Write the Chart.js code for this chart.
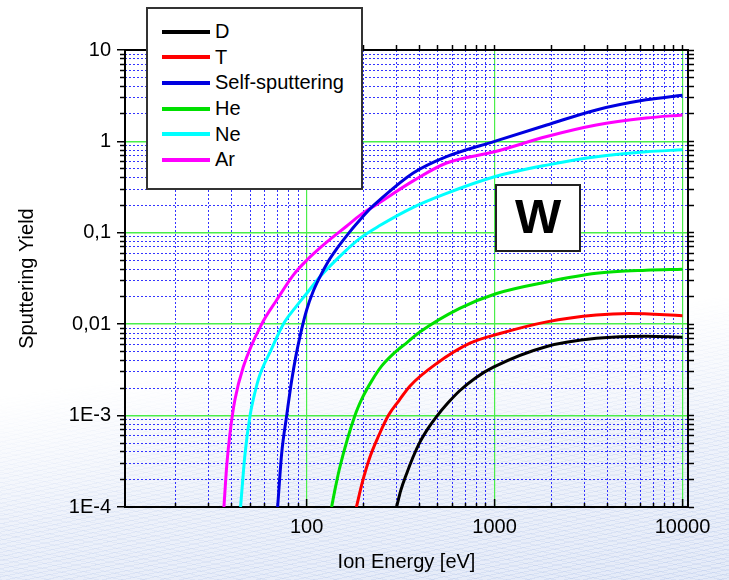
<!DOCTYPE html>
<html>
<head>
<meta charset="utf-8">
<script src="https://cdn.jsdelivr.net/npm/chart.js@4"></script>
<style>
  body { margin: 0; background: #fff; }
  #wrap { position: relative; width: 729px; height: 580px; overflow: hidden; background: #fff; }
  #waves {
    position: absolute; left: 0; top: 0; width: 729px; height: 580px;
    background:
      repeating-linear-gradient(168deg, rgba(150,175,225,0.22) 0 1px, transparent 1px 4px),
      repeating-linear-gradient(12deg, rgba(150,175,225,0.16) 0 1px, transparent 1px 5px),
      linear-gradient(180deg, rgba(225,232,247,0.3), rgba(225,232,247,0.9));
    -webkit-mask-image: linear-gradient(172deg, transparent 58%, rgba(0,0,0,0.7) 78%, #000 100%);
    mask-image: linear-gradient(172deg, transparent 58%, rgba(0,0,0,0.7) 78%, #000 100%);
  }
  canvas { position: absolute; left: 0; top: 0; }
  #legend {
    position: absolute; left: 146px; top: 7px; width: 213px; height: 169px;
    border: 2px solid #333; background: #fff; padding-top: 10px; box-sizing: content-box;
    font-family: "Liberation Sans", Arial, sans-serif; font-size: 20px; color: #000;
  }
  .row { height: 25.6px; display: flex; align-items: center; }
  .sw { width: 48px; height: 4px; margin-left: 14px; margin-right: 5px; }
  #wbox {
    position: absolute; left: 495px; top: 184px; width: 82px; height: 60px;
    border: 2px solid #222; background: #fff;
    font-family: "Liberation Sans", Arial, sans-serif; font-weight: bold; font-size: 49px;
    display: flex; align-items: center; justify-content: center; padding-bottom: 4px; box-sizing: content-box;
  }
</style>
</head>
<body>
<div id="wrap">
  <div id="waves"></div>
  <canvas id="chart" width="729" height="580"></canvas>
  <div id="legend"></div>
  <div id="wbox">W</div>
</div>
<script>
const seriesNames = ['D', 'T', 'Self-sputtering', 'He', 'Ne', 'Ar'];
const seriesColors = ['#000000', '#ff0000', '#0000e0', '#00e000', '#00ffff', '#ff00ff'];

// ion energy [eV] / sputtering yield
const energyD = [301, 317, 340, 368, 400, 442, 490, 564, 652, 795, 986, 1895, 3480, 6400, 10000];
const yieldD = [1e-4, 1.52e-4, 2.3e-4, 3.5e-4, 5.1e-4, 7.2e-4, 9.7e-4, 1.37e-3, 1.87e-3, 2.6e-3, 3.39e-3, 0.0057, 0.0070, 0.0074, 0.0072];

const energyT = [184, 198, 217, 242.5, 272, 310, 354, 490, 740, 1068, 1895, 3480, 5230, 10000];
const yieldT = [1e-4, 1.87e-4, 3.5e-4, 6.1e-4, 1e-3, 1.46e-3, 0.0021, 0.0037, 0.0062, 0.0079, 0.0106, 0.0126, 0.0131, 0.0124];

const energySelf = [70.1, 73.6, 78.3, 83.2, 87.7, 93.3, 100, 108, 117.7, 129.8, 144.4, 170, 192, 217, 245, 369, 555, 1000, 1895, 3480, 6400, 10000];
const yieldSelf = [1e-4, 3.8e-4, 1e-3, 0.0024, 0.0045, 0.0082, 0.0143, 0.0225, 0.033, 0.048, 0.0665, 0.103, 0.138, 0.182, 0.229, 0.45, 0.68, 1.0, 1.51, 2.21, 2.85, 3.2];

const energyHe = [135.8, 142.3, 150.3, 180.7, 199, 222, 251, 291, 342, 400, 652, 1025, 1895, 3480, 6400, 10000];
const yieldHe = [1e-4, 1.64e-4, 2.74e-4, 1e-3, 0.0016, 0.0024, 0.0035, 0.0048, 0.0063, 0.0082, 0.0149, 0.0217, 0.029, 0.036, 0.039, 0.040];

const energyNe = [44.5, 47, 50, 53.1, 56.4, 64.6, 75.1, 86.6, 100, 117.7, 156.5, 192, 245, 369, 555, 1000, 1895, 3480, 6400, 10000];
const yieldNe = [1e-4, 3.8e-4, 1e-3, 0.0018, 0.0028, 0.0052, 0.01, 0.015, 0.0217, 0.033, 0.06, 0.087, 0.12, 0.19, 0.27, 0.41, 0.55, 0.68, 0.77, 0.81];

const energyAr = [36.3, 37.6, 39.1, 41.5, 46, 57.6, 69.3, 84.9, 100, 127.8, 163, 192, 245, 369, 555, 1000, 1895, 3480, 6400, 10000];
const yieldAr = [1e-4, 2.9e-4, 6.4e-4, 1.48e-3, 0.0034, 0.01, 0.0184, 0.0345, 0.050, 0.079, 0.118, 0.155, 0.215, 0.37, 0.58, 0.77, 1.13, 1.51, 1.80, 1.95];

const energies = [energyD, energyT, energySelf, energyHe, energyNe, energyAr];
const yields = [yieldD, yieldT, yieldSelf, yieldHe, yieldNe, yieldAr];

const xMajorTicks = [100, 1000, 10000];
const xMajorLabels = ['100', '1000', '10000'];
const yMajorTicks = [1e-4, 1e-3, 0.01, 0.1, 1, 10];
const yMajorLabels = ['1E-4', '1E-3', '0,01', '0,1', '1', '10'];
const xDecades = [10, 100, 1000];
const yDecades = [1e-4, 1e-3, 0.01, 0.1, 1];
const steps = [2, 3, 4, 5, 6, 7, 8, 9];

const xTicks = [];
xDecades.forEach(d => steps.forEach(s => xTicks.push(s * d)));
xTicks.push(...xMajorTicks);
xTicks.sort((a, b) => a - b);
const yTicks = [];
yDecades.forEach(d => steps.forEach(s => yTicks.push(s * d)));
yTicks.push(...yMajorTicks);
yTicks.sort((a, b) => a - b);

const GREEN = '#4aee4a';
const BLUE = 'rgba(30,30,255,0.9)';
const FONT = { family: '"Liberation Sans", Arial, sans-serif', size: 20 };

const sameVal = (a, b) => Math.abs(Math.log10(a) - Math.log10(b)) < 1e-6;
const isMajor = (list, v) => list.some(m => sameVal(m, v));
const labelFor = (list, labels, v) => {
  const i = list.findIndex(m => sameVal(m, v));
  return i >= 0 ? labels[i] : '';
};
const setTicks = list => scale => { scale.ticks = list.map(v => ({ value: v })); };

const legend = document.getElementById('legend');
seriesNames.forEach((n, i) => {
  const row = document.createElement('div');
  row.className = 'row';
  row.innerHTML = `<span class="sw" style="background:${seriesColors[i]}"></span><span>${n}</span>`;
  legend.appendChild(row);
});

const X_MIN = 10.8, X_MAX = 10700, Y_MIN = 1e-4, Y_MAX = 10;

new Chart(document.getElementById('chart'), {
  type: 'scatter',
  data: {
    datasets: seriesNames.map((n, i) => ({
      label: n,
      data: energies[i].map((e, k) => ({ x: e, y: yields[i][k] })),
      showLine: true,
      borderColor: seriesColors[i],
      borderWidth: 3,
      pointRadius: 0,
      cubicInterpolationMode: 'monotone',
      fill: false
    }))
  },
  options: {
    responsive: false,
    animation: false,
    layout: { padding: { top: 45, right: 35, left: 0, bottom: 0 } },
    plugins: { legend: { display: false }, tooltip: { enabled: false } },
    scales: {
      x: {
        type: 'logarithmic', position: 'bottom', min: X_MIN, max: X_MAX, weight: 1,
        afterBuildTicks: setTicks(xTicks),
        afterFit: s => { s.height = 73; },
        ticks: { autoSkip: false, maxRotation: 0, padding: 16, color: '#000', font: FONT,
          callback: v => labelFor(xMajorTicks, xMajorLabels, v) },
        grid: {
          color: c => isMajor(xMajorTicks, c.tick.value) ? GREEN : 'rgba(0,0,0,0)',
          lineWidth: 1.2, tickLength: -8, tickWidth: 1.5,
          tickColor: c => isMajor(xMajorTicks, c.tick.value) ? '#000' : 'rgba(0,0,0,0)'
        },
        border: { color: '#000', width: 2 },
        title: { display: true, text: 'Ion Energy [eV]', color: '#000', font: FONT, padding: { bottom: 6 } }
      },
      xMinor: {
        type: 'logarithmic', position: 'bottom', min: X_MIN, max: X_MAX, weight: 0,
        afterBuildTicks: setTicks(xTicks),
        afterFit: s => { s.height = 0; },
        ticks: { display: false },
        grid: {
          color: c => isMajor(xMajorTicks, c.tick.value) ? 'rgba(0,0,0,0)' : BLUE,
          lineWidth: 1, tickLength: -4, tickWidth: 1.5,
          tickColor: c => isMajor(xMajorTicks, c.tick.value) ? 'rgba(0,0,0,0)' : '#000'
        },
        border: { display: false, dash: [2, 2] }
      },
      xTop: {
        type: 'logarithmic', position: 'top', min: X_MIN, max: X_MAX,
        afterBuildTicks: setTicks(xTicks),
        afterFit: s => { s.height = 5; },
        ticks: { display: false },
        grid: { drawOnChartArea: false, tickLength: 5, tickWidth: 1.5, tickColor: '#000' },
        border: { color: '#000', width: 2 }
      },
      y: {
        type: 'logarithmic', position: 'left', min: Y_MIN, max: Y_MAX, weight: 1,
        afterBuildTicks: setTicks(yTicks),
        afterFit: s => { s.width = 125; },
        ticks: { autoSkip: false, padding: 6, color: '#000', font: FONT,
          callback: v => labelFor(yMajorTicks, yMajorLabels, v) },
        grid: {
          color: c => isMajor(yMajorTicks, c.tick.value) ? GREEN : 'rgba(0,0,0,0)',
          lineWidth: 1.5, tickLength: 8, tickWidth: 1.5,
          tickColor: c => isMajor(yMajorTicks, c.tick.value) ? '#000' : 'rgba(0,0,0,0)'
        },
        border: { color: '#000', width: 2 },
        title: { display: true, text: 'Sputtering Yield', color: '#000', font: FONT, padding: { top: 15 } }
      },
      yMinor: {
        type: 'logarithmic', position: 'left', min: Y_MIN, max: Y_MAX, weight: 0,
        afterBuildTicks: setTicks(yTicks),
        afterFit: s => { s.width = 0; },
        ticks: { display: false },
        grid: {
          color: c => isMajor(yMajorTicks, c.tick.value) ? 'rgba(0,0,0,0)' : BLUE,
          lineWidth: 1, tickLength: 5, tickWidth: 1.5,
          tickColor: c => isMajor(yMajorTicks, c.tick.value) ? 'rgba(0,0,0,0)' : '#000'
        },
        border: { display: false, dash: [2, 2] }
      },
      yRight: {
        type: 'logarithmic', position: 'right', min: Y_MIN, max: Y_MAX,
        afterBuildTicks: setTicks(yTicks),
        afterFit: s => { s.width = 6; },
        ticks: { display: false },
        grid: { drawOnChartArea: false, tickLength: 6, tickWidth: 1.5, tickColor: '#000' },
        border: { color: '#000', width: 2 }
      }
    }
  }
});
</script>
</body>
</html>
